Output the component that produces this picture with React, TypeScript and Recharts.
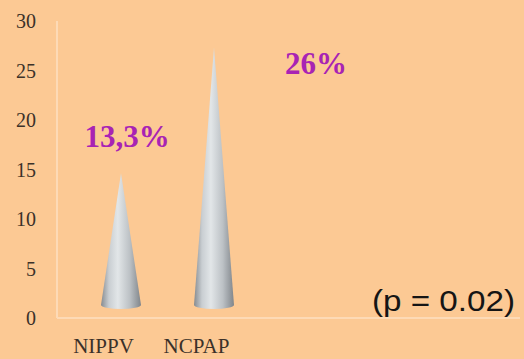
import React from "react";
import { BarChart, Bar, XAxis, YAxis, Customized } from "recharts";

const categories = ["NIPPV", "NCPAP"];
const values = [13.3, 26];
const valueLabels = ["13,3%", "26%"];
const yTicks = [0, 5, 10, 15, 20, 25, 30];
const pValueText = "(p = 0.02)";

const data = categories.map((c, i) => ({ name: c, value: values[i], label: valueLabels[i] }));

const BG = "#FCC994";
const AXIS_COLOR = "#FDDAB6";
const LABEL_COLOR = "#A823B4";
const CONE_SHIFT = 17;
const BASE_LIFT = 13;
const LABEL_OFFSETS = [
  { dx: 6, dy: -26 },
  { dx: 102, dy: 26 },
];

function Cone(props: any) {
  const { x, y, width, height, index, payload } = props;
  const cx = x + width / 2 + CONE_SHIFT;
  const baseY = y + height - BASE_LIFT;
  const apexY = y - BASE_LIFT;
  const hw = width / 2;
  const ry = 4;
  const id = `coneGrad${index}`;
  const d = `M ${cx} ${apexY} L ${cx + hw} ${baseY} A ${hw} ${ry} 0 0 1 ${cx - hw} ${baseY} Z`;
  const off = LABEL_OFFSETS[index] || { dx: 0, dy: -10 };
  return (
    <g>
      <defs>
        <linearGradient id={id} x1="0" y1="0" x2="1" y2="0">
          <stop offset="0%" stopColor="#868b90" />
          <stop offset="20%" stopColor="#c9ced2" />
          <stop offset="42%" stopColor="#e2e6e8" />
          <stop offset="72%" stopColor="#bcc1c5" />
          <stop offset="100%" stopColor="#80858a" />
        </linearGradient>
      </defs>
      <path d={d} fill={`url(#${id})`} />
      <text
        x={cx + off.dx}
        y={apexY + off.dy}
        textAnchor="middle"
        fill={LABEL_COLOR}
        fontFamily="'Liberation Serif', serif"
        fontWeight="bold"
        fontSize={31}
      >
        {payload?.label ?? valueLabels[index]}
      </text>
    </g>
  );
}

const PValue = () => (
  <text
    x={372}
    y={311}
    fill="#151515"
    fontFamily="'Liberation Sans', Arial, sans-serif"
    fontSize={30}
    textLength={143}
    lengthAdjust="spacingAndGlyphs"
  >
    {pValueText}
  </text>
);

export default function App() {
  return (
    <div
      style={{
        position: "absolute",
        left: 0,
        top: 0,
        width: 524,
        height: 359,
        background: BG,
        overflow: "hidden",
      }}
    >
      <BarChart
        width={524}
        height={359}
        data={data}
        margin={{ top: 21, right: 4, left: 0, bottom: 0 }}
        barSize={40}
      >
        <YAxis
          type="number"
          domain={[0, 30]}
          ticks={yTicks}
          interval={0}
          width={57}
          tickLine={false}
          tickSize={0}
          tickMargin={21}
          axisLine={{ stroke: AXIS_COLOR, strokeWidth: 2 }}
          tick={{ fill: "#3b3129", fontSize: 20, fontFamily: "'Liberation Serif', serif" }}
        />
        <XAxis
          dataKey="name"
          type="category"
          height={41}
          padding={{ left: 0, right: 277 }}
          tickLine={false}
          tickSize={0}
          tickMargin={20}
          axisLine={{ stroke: AXIS_COLOR, strokeWidth: 2 }}
          tick={{ fill: "#3b3129", fontSize: 21, fontFamily: "'Liberation Serif', serif" }}
        />
        <Bar dataKey="value" shape={<Cone />} isAnimationActive={false} />
        <Customized component={PValue} />
      </BarChart>
    </div>
  );
}
